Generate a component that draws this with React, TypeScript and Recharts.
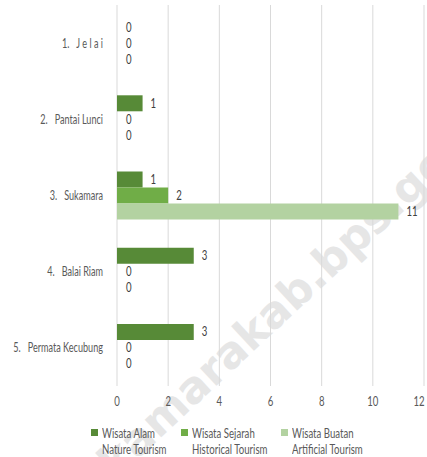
import React from 'react';
import { BarChart, Bar, XAxis, YAxis, CartesianGrid, LabelList, Rectangle } from 'recharts';

const categories = ['1.   J e l a i', '2.   Pantai Lunci', '3.   Sukamara', '4.   Balai Riam', '5.   Permata Kecubung'];
const wisataAlam = [0, 1, 1, 3, 3];
const wisataSejarah = [0, 0, 2, 0, 0];
const wisataBuatan = [0, 0, 11, 0, 0];
const xTicks = [0, 2, 4, 6, 8, 10, 12];
const seriesNames = [
  ['Wisata Alam', 'Nature Tourism'],
  ['Wisata Sejarah', 'Historical Tourism'],
  ['Wisata Buatan', 'Artificial Tourism'],
];
const colors = ['#578A37', '#70AD47', '#B3D2A1'];

const data = categories.map((c, i) => ({
  name: c,
  alam: wisataAlam[i],
  sejarah: wisataSejarah[i],
  buatan: wisataBuatan[i],
}));

const FONT = 'Lato, "Open Sans", sans-serif';
const FS = 13;
const SX = 0.74;

const CText = ({ x, y, anchor, fill, sx, children }: any) => (
  <text
    transform={`translate(${x},${y}) scale(${sx || SX},1)`}
    x={0}
    y={0}
    textAnchor={anchor}
    fill={fill}
    fontSize={FS}
    fontFamily={FONT}
    style={{ whiteSpace: 'pre' }}
  >
    {children}
  </text>
);

const YTick = (props: any) => {
  const { x, y, payload } = props;
  return (
    <CText x={x} y={y + 4.5} anchor="end" fill="#595959" sx={0.7}>
      {payload.value}
    </CText>
  );
};

const XTick = (props: any) => {
  const { x, y, payload } = props;
  return (
    <CText x={x} y={y + 10} anchor="middle" fill="#595959">
      {payload.value}
    </CText>
  );
};

const ValueLabel = (props: any) => {
  const { x, y, width, height, value } = props;
  return (
    <CText x={x + width + 8} y={y + height / 2 + 4.5} anchor="start" fill="#404040">
      {value}
    </CText>
  );
};

const BarShape = (props: any) => {
  if (!props.width || props.width < 1.5) return <g />;
  return <Rectangle x={props.x} y={props.y} width={props.width} height={props.height} fill={props.fill} />;
};

export default function App() {
  const legendX = [91, 181, 281];
  return (
    <div style={{ position: 'absolute', left: 0, top: 0, width: 427, height: 457, overflow: 'hidden', background: '#fff' }}>
      <div
        style={{
          position: 'absolute',
          left: 46,
          top: 490,
          transform: 'rotate(-43deg)',
          transformOrigin: 'left top',
          fontFamily: '"DejaVu Sans", sans-serif',
          fontWeight: 'bold',
          fontSize: 44,
          color: '#e6e6e6',
          whiteSpace: 'nowrap',
          lineHeight: '50px',
        }}
      >
        sukamarakab.bps.go.id
      </div>
      <div style={{ position: 'absolute', left: 0, top: 0 }}>
        <BarChart
          width={427}
          height={420}
          data={data}
          layout="vertical"
          margin={{ top: 5, right: 3, bottom: 0, left: 0 }}
          barCategoryGap="18.5%"
          barGap={0}
        >
          <CartesianGrid horizontal={false} vertical={true} stroke="#d9d9d9" />
          <XAxis
            type="number"
            domain={[0, 12]}
            ticks={xTicks}
            axisLine={false}
            tickLine={false}
            height={34}
            tickMargin={4}
            tick={<XTick />}
          />
          <YAxis
            type="category"
            dataKey="name"
            width={117}
            axisLine={false}
            tickLine={false}
            tickMargin={8}
            tick={<YTick />}
            interval={0}
          />
          <Bar dataKey="alam" fill={colors[0]} minPointSize={1} shape={<BarShape />} isAnimationActive={false}>
            <LabelList dataKey="alam" content={<ValueLabel />} />
          </Bar>
          <Bar dataKey="sejarah" fill={colors[1]} minPointSize={1} shape={<BarShape />} isAnimationActive={false}>
            <LabelList dataKey="sejarah" content={<ValueLabel />} />
          </Bar>
          <Bar dataKey="buatan" fill={colors[2]} minPointSize={1} shape={<BarShape />} isAnimationActive={false}>
            <LabelList dataKey="buatan" content={<ValueLabel />} />
          </Bar>
        </BarChart>
      </div>
      {seriesNames.map((n, i) => (
        <div key={i} style={{ position: 'absolute', left: legendX[i], top: 425 }}>
          <div style={{ position: 'absolute', left: 0, top: 4, width: 7, height: 7, background: colors[i] }} />
          <div
            style={{
              position: 'absolute',
              left: 11,
              top: 0,
              whiteSpace: 'nowrap',
              fontFamily: FONT,
              fontSize: FS,
              color: '#595959',
              lineHeight: '16px',
              transform: `scale(${SX},1)`,
              transformOrigin: 'left top',
            }}
          >
            {n[0]}
            <br />
            {n[1]}
          </div>
        </div>
      ))}
    </div>
  );
}
